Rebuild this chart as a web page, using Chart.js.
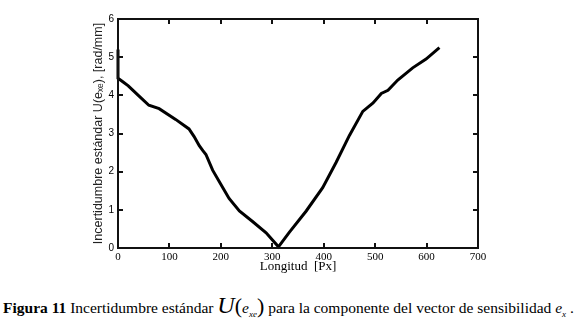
<!DOCTYPE html>
<html>
<head>
<meta charset="utf-8">
<script src="https://cdn.jsdelivr.net/npm/chart.js@4"></script>
<style>
  body { margin: 0; background: #fff; width: 578px; height: 328px; overflow: hidden; position: relative; }
  #wrap { position: absolute; left: 0; top: 0; width: 578px; height: 290px; }
  #cap { position: absolute; left: 3px; top: 292px; white-space: nowrap;
         font-family: "Liberation Serif", "DejaVu Serif", serif; font-size: 15.5px; color: #000; }
  #cap .u { font-style: italic; font-size: 24px; }
  #cap .p { font-size: 22px; }
  #cap sub { font-size: 9px; font-style: italic; }
</style>
</head>
<body>
<div id="wrap"><canvas id="c" width="578" height="290"></canvas></div>
<div id="cap"><b>Figura 11</b> Incertidumbre estándar <span class="u">U</span><span class="p">(</span><i>e</i><sub>xe</sub><span class="p">)</span> para la componente del vector de sensibilidad <i>e</i><sub>x</sub> .</div>
<script>
const longitud = [0, 0, 10, 20, 41, 60, 80, 112, 138, 148, 158, 165, 171, 184, 203, 216, 236, 261, 288, 312,
  333, 366, 398, 424, 450, 476, 496, 512, 525, 544, 573, 599, 625];
const incert = [5.2, 4.45, 4.35, 4.25, 3.98, 3.74, 3.65, 3.37, 3.12, 2.92, 2.68, 2.55, 2.45, 2.04, 1.6, 1.3, 0.97, 0.7, 0.4, 0.03,
  0.41, 0.97, 1.58, 2.24, 2.95, 3.58, 3.8, 4.05, 4.13, 4.4, 4.72, 4.95, 5.25];

// box around the plot with inward ticks on all four sides
const boxTicks = {
  id: 'boxTicks',
  afterDatasetsDraw(chart) {
    const ctx = chart.ctx, a = chart.chartArea;
    const x = chart.scales.x, y = chart.scales.y;
    const L = Math.round(a.left), T = Math.round(a.top);
    const R = Math.round(a.right), B = Math.round(a.bottom);
    ctx.save();
    ctx.strokeStyle = '#111';
    ctx.lineWidth = 2;
    ctx.beginPath();
    ctx.rect(L, T, R - L, B - T);
    x.ticks.forEach(t => {
      const px = Math.round(x.getPixelForValue(t.value));
      ctx.moveTo(px, B); ctx.lineTo(px, B - 5);
      ctx.moveTo(px, T); ctx.lineTo(px, T + 5);
    });
    y.ticks.forEach(t => {
      const py = Math.round(y.getPixelForValue(t.value));
      ctx.moveTo(L, py); ctx.lineTo(L + 5, py);
      ctx.moveTo(R, py); ctx.lineTo(R - 5, py);
    });
    ctx.stroke();
    ctx.restore();
  }
};

new Chart(document.getElementById('c'), {
  type: 'scatter',
  data: {
    datasets: [{
      data: longitud.map((v, i) => ({ x: v, y: incert[i] })),
      showLine: true,
      borderColor: '#000',
      borderWidth: 3,
      pointRadius: 0,
      tension: 0,
      clip: false
    }]
  },
  options: {
    responsive: false,
    animation: false,
    layout: { padding: { left: 91, right: 100, top: 19, bottom: 0 } },
    plugins: { legend: { display: false }, tooltip: { enabled: false } },
    scales: {
      x: {
        type: 'linear', min: 0, max: 700,
        grid: { display: false, drawTicks: false },
        border: { display: false },
        ticks: { stepSize: 100, color: '#000', padding: 3, maxRotation: 0,
                 font: { family: 'Liberation Serif', size: 11 } },
        title: { display: true, text: 'Longitud  [Px]', color: '#000',
                 font: { family: 'Liberation Serif', size: 13 }, padding: { top: 0, bottom: 16 } },
        afterFit: s => { s.height = 42; }
      },
      y: {
        type: 'linear', min: 0, max: 6,
        grid: { display: false, drawTicks: false },
        border: { display: false },
        ticks: { stepSize: 1, color: '#000', padding: 4,
                 font: { family: 'Liberation Sans', size: 10 } },
        title: { display: true, text: 'Incertidumbre estándar U(eₓₑ), [rad/mm]', color: '#222',
                 font: { family: 'Liberation Sans', size: 12.5 }, padding: 0 },
        afterFit: s => { s.width = 27; }
      }
    }
  },
  plugins: [boxTicks]
});
</script>
</body>
</html>
